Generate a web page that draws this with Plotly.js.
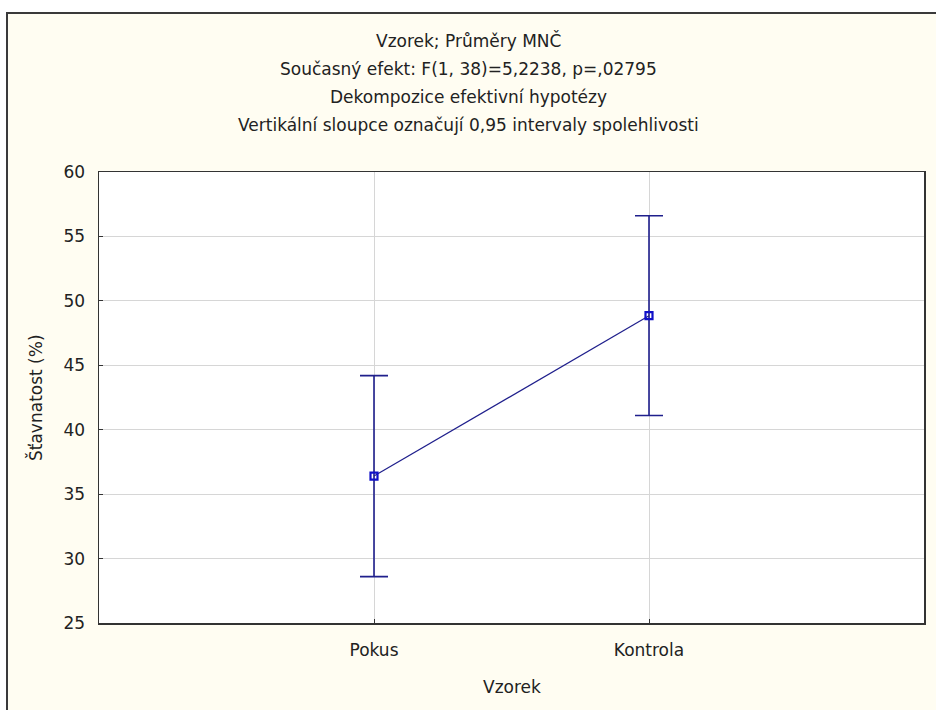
<!DOCTYPE html>
<html>
<head>
<meta charset="utf-8">
<script src="https://cdn.plot.ly/plotly-3.0.1.min.js"></script>
<style>html,body{margin:0;padding:0;background:#fff;}#chart{width:936px;height:710px;}</style>
</head>
<body>
<div id="chart"></div>
<script>
const categories = ["Pokus", "Kontrola"];
const means = [36.4, 48.85];
const ciHalf = [7.8, 7.75];
const yTicks = [25, 30, 35, 40, 45, 50, 55, 60];
const titleLines = [
  "Vzorek; Průměry MNČ",
  "Současný efekt: F(1, 38)=5,2238, p=,02795",
  "Dekompozice efektivní hypotézy",
  "Vertikální sloupce označují 0,95 intervaly spolehlivosti"
];
const xTitle = "Vzorek";
const yTitle = "Šťavnatost (%)";

const W = 936, H = 710;
const M = {l: 99, r: 12, t: 172, b: 87};
const pw = W - M.l - M.r, ph = H - M.t - M.b;
const px2x = p => (p - M.l) / pw;
const py2y = p => (H - M.b - p) / ph;

const FONT = "DejaVu Sans, Verdana, sans-serif";
const FS = 17;
const TXT = "#222";
const NAVY = "#1f1f8c";

const trace = {
  type: "scatter",
  mode: "lines+markers",
  x: categories,
  y: means,
  line: {color: NAVY, width: 1.2},
  marker: {symbol: "square-open", size: 7, color: "#1010c8", line: {width: 2.2, color: "#1010c8"}},
  error_y: {type: "data", array: ciHalf, visible: true, color: NAVY, thickness: 1.6, width: 14},
  cliponaxis: false,
  hoverinfo: "skip"
};

const titleY = [41, 69, 97, 125];
const annotations = titleLines.map((t, i) => ({
  text: t, xref: "paper", yref: "paper", x: px2x(468), y: py2y(titleY[i]),
  xanchor: "center", yanchor: "middle", showarrow: false,
  font: {family: FONT, size: FS, color: TXT}
}));
annotations.push({
  text: xTitle, xref: "paper", yref: "paper", x: px2x(512), y: py2y(687),
  xanchor: "center", yanchor: "middle", showarrow: false,
  font: {family: FONT, size: FS, color: TXT}
});
annotations.push({
  text: yTitle, xref: "paper", yref: "paper", x: px2x(35), y: py2y(398),
  xanchor: "center", yanchor: "middle", showarrow: false, textangle: -90,
  font: {family: FONT, size: FS, color: TXT}
});

const layout = {
  width: W, height: H,
  margin: M,
  paper_bgcolor: "#fffdf2",
  plot_bgcolor: "#ffffff",
  showlegend: false,
  font: {family: FONT, size: FS, color: TXT},
  xaxis: {
    type: "category", range: [-1, 2],
    showgrid: true, gridcolor: "#d6d6d6", gridwidth: 1,
    showline: true, linecolor: "#333", linewidth: 1.5, mirror: true,
    ticks: "inside", ticklen: 4, tickcolor: "#333",
    ticklabelstandoff: 11,
    zeroline: false, fixedrange: true
  },
  yaxis: {
    range: [25, 60], tickvals: yTicks,
    showgrid: true, gridcolor: "#d6d6d6", gridwidth: 1,
    showline: true, linecolor: "#333", linewidth: 1.5, mirror: true,
    ticks: "inside", ticklen: 4, tickcolor: "#333",
    ticklabelstandoff: 9,
    zeroline: false, fixedrange: true
  },
  annotations: annotations,
  shapes: [
    {type: "rect", xref: "paper", yref: "paper", x0: px2x(-2), x1: px2x(6), y0: py2y(-2), y1: py2y(H + 5), fillcolor: "#ffffff", line: {width: 0}, layer: "above"},
    {type: "rect", xref: "paper", yref: "paper", x0: px2x(-2), x1: px2x(W + 5), y0: py2y(12), y1: py2y(-5), fillcolor: "#ffffff", line: {width: 0}, layer: "above"},
    {type: "path", xref: "paper", yref: "paper",
     path: "M " + px2x(7) + " " + py2y(H + 5) + " L " + px2x(7) + " " + py2y(13) + " L " + px2x(W + 5) + " " + py2y(13),
     line: {color: "#3a3a3a", width: 2}, layer: "above"}
  ]
};

Plotly.newPlot("chart", [trace], layout, {displayModeBar: false, staticPlot: true});
</script>
</body>
</html>
